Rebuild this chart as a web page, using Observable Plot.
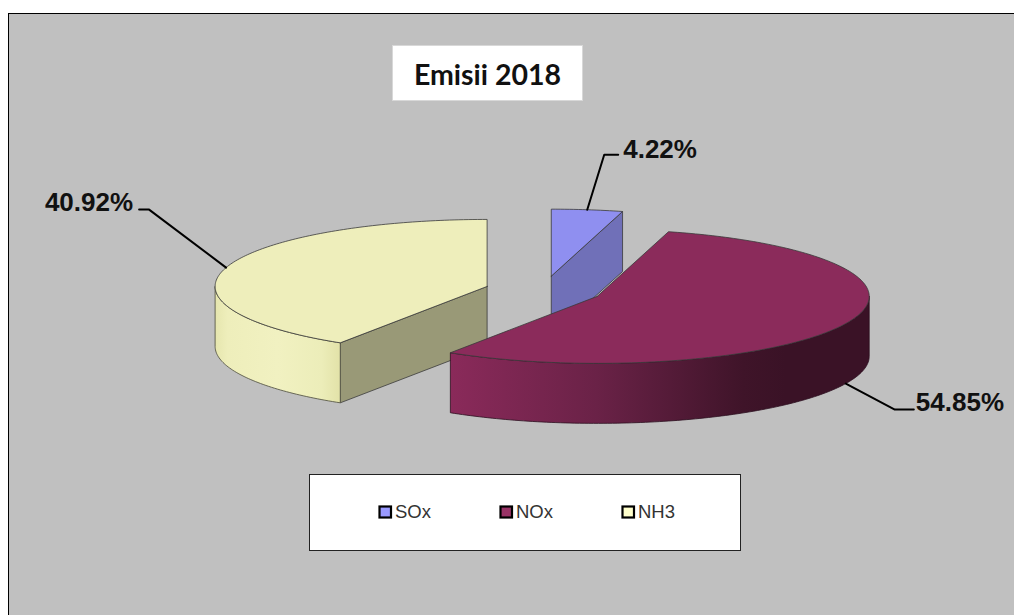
<!DOCTYPE html>
<html>
<head>
<meta charset="utf-8">
<title>Emisii 2018</title>
<script src="https://cdn.jsdelivr.net/npm/d3@7"></script>
<script src="https://cdn.jsdelivr.net/npm/@observablehq/plot@0.6"></script>
<style>
  html, body { margin: 0; padding: 0; background: #fff; overflow: hidden; }
  svg { display: block; background: transparent !important; }
</style>
</head>
<body>
<script>
// Emission shares, in percent
const categories = ["SOx", "NOx", "NH3"];
const shares = [4.22, 54.85, 40.92];

// Colours per category: top face, cut face, legend key
const topColors = ["#8f8ff0", "#8b2b5b", "#eeeebb"];
const cutColors = ["#7070b8", "#6b2146", "#999977"];
const keyColors = ["#9999ff", "#993366", "#ffffcc"];
const rimGradients = ["rimSOx", "rimNOx", "rimNH3"];

// Leader line bends and ends, as offsets from the rim point of each slice
const leaderBends = [[17, -55], [49, 26], [-77, -58]];
const leaderEnds = [[31, -55], [68, 26], [-87, -58]];
const labelAnchors = ["start", "start", "end"];
const labelGaps = [[5, -5], [2, -7], [-6, -7]];

// Layout of the tilted pie
const W = 1014, H = 615;
const center = [543, 290];
const rx = 272, ry = 67, depth = 60, explode = 0.216;

// Layout of the furniture
const legendKeyX = [380, 501, 623];

const rad = (deg) => (deg * Math.PI) / 180;
const total = d3.sum(shares);

// Each slice spans a clockwise angle from twelve o'clock
let running = 0;
const slices = shares.map((v, i) => {
  const a0 = running;
  running += (v / total) * 360;
  const a1 = running;
  const mid = (a0 + a1) / 2;
  return {
    i, a0, a1, mid,
    cx: center[0] + explode * rx * Math.sin(rad(mid)),
    cy: center[1] - explode * ry * Math.cos(rad(mid))
  };
});

const rimPoint = (s, a, drop = 0) => [
  s.cx + rx * Math.sin(rad(a)),
  s.cy - ry * Math.cos(rad(a)) + drop
];
const arc = (s, a0, a1, drop = 0) => {
  const n = Math.max(2, Math.ceil(Math.abs(a1 - a0)));
  return d3.range(n + 1).map((k) => rimPoint(s, a0 + ((a1 - a0) * k) / n, drop));
};
const closed = (pts) => [...pts, pts[0]];

const edge = { stroke: "#3a3a3a", strokeWidth: 0.8, strokeLinejoin: "round" };
const poly = (pts, fill, extra = {}) =>
  Plot.line(closed(pts), { x: (d) => d[0], y: (d) => d[1], fill, ...edge, ...extra });

// Faces of one slice, back to front: cut faces, curved rim, top
function sliceMarks(s) {
  const marks = [];
  const apex = [s.cx, s.cy];
  const apexLow = [s.cx, s.cy + depth];
  const cut = (a) => {
    const p = rimPoint(s, a);
    const q = rimPoint(s, a, depth);
    return poly([apex, p, q, apexLow], cutColors[s.i]);
  };
  if (s.a0 > 180 && s.a0 < 360) marks.push(cut(s.a0));
  if (s.a1 > 0 && s.a1 < 180) marks.push(cut(s.a1));
  const from = Math.max(s.a0, 90), to = Math.min(s.a1, 270);
  if (from < to) {
    marks.push(poly(
      [...arc(s, from, to), ...arc(s, to, from, depth)],
      `url(#${rimGradients[s.i]})`,
      { stroke: s.i === 1 ? "#2c0f20" : "#4a4a3a" }
    ));
  }
  marks.push(poly([apex, ...arc(s, s.a0, s.a1)], topColors[s.i]));
  return marks;
}

// Shading of the curved rims
function gradients() {
  const defs = d3.create("svg:defs");
  const stops = {
    rimSOx: [[0, "#7070b8"], [1, "#7070b8"]],
    rimNOx: [[0, "#8a2a5a"], [0.35, "#6a2247"], [0.7, "#3f1429"], [0.8, "#3a1226"], [1, "#3a1226"]],
    rimNH3: [[0, "#e6e6ae"], [0.1, "#eeeebb"], [0.5, "#f1f1c1"], [0.85, "#ecedb9"], [1, "#e2e2a8"]]
  };
  for (const id of rimGradients) {
    const g = defs.append("linearGradient").attr("id", id);
    for (const [o, c] of stops[id]) g.append("stop").attr("offset", o).attr("stop-color", c);
  }
  return defs.node();
}

const box = (x1, y1, x2, y2, fill, stroke, strokeWidth) =>
  Plot.rect([0], { x1: () => x1, y1: () => y1, x2: () => x2, y2: () => y2, fill, stroke, strokeWidth });

const leaderMarks = slices.flatMap((s) => {
  const a = s.mid;
  const start = rimPoint(s, a, a > 90 && a < 270 ? depth : 0);
  const bend = [start[0] + leaderBends[s.i][0], start[1] + leaderBends[s.i][1]];
  const end = [start[0] + leaderEnds[s.i][0], start[1] + leaderEnds[s.i][1]];
  return [
    Plot.line([start, bend, end], { x: (d) => d[0], y: (d) => d[1], stroke: "#000", strokeWidth: 2 }),
    Plot.text([`${d3.format(".2f")(shares[s.i])}%`], {
      x: () => end[0] + labelGaps[s.i][0],
      y: () => end[1] + labelGaps[s.i][1],
      text: (d) => d,
      textAnchor: labelAnchors[s.i],
      fontFamily: "Liberation Sans, Arial, sans-serif",
      fontWeight: 700,
      fontSize: 26,
      fill: "#111"
    })
  ];
});

const legendMarks = categories.flatMap((c, i) => [
  box(legendKeyX[i] - 0.5, 506.5, legendKeyX[i] + 11, 517.5, keyColors[i], "#000", 2.2),
  Plot.text([c], {
    x: () => legendKeyX[i] + 14.5,
    y: () => 512,
    text: (d) => d,
    textAnchor: "start",
    fontFamily: "Liberation Sans, Arial, sans-serif",
    fontSize: 18.5,
    fill: "#333"
  })
]);

const chart = Plot.plot({
  width: W,
  height: H,
  margin: 0,
  x: { domain: [0, W], range: [0, W], axis: null },
  y: { domain: [0, H], range: [0, H], axis: null },
  marks: [
    gradients,
    box(8.5, 13.5, W + 20, H + 20, "#c0c0c0", "#000", 1),
    box(392.5, 45.5, 582.5, 100.5, "#fff", "#d8d8d8", 1),
    Plot.text(["Emisii 2018"], {
      x: () => 487,
      y: () => 75,
      text: (d) => d,
      fontFamily: "Lato, sans-serif",
      fontWeight: 700,
      fontSize: 28.5,
      fill: "#111"
    }),
    ...d3.sort(slices, (s) => s.cy).flatMap(sliceMarks),
    ...leaderMarks,
    box(309.5, 474.5, 740.5, 550.5, "#fff", "#222", 1),
    ...legendMarks
  ]
});
document.body.appendChild(chart);
</script>
</body>
</html>
